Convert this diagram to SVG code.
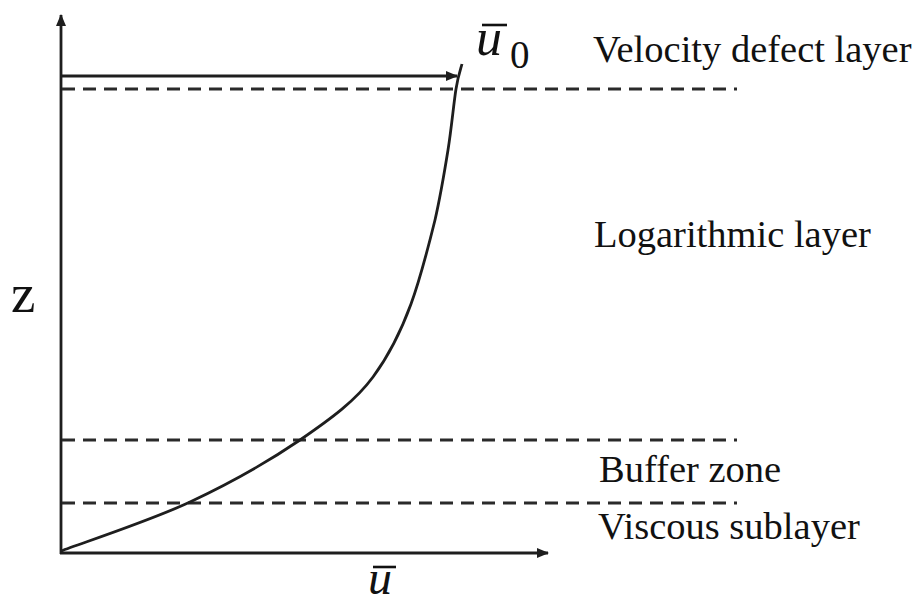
<svg xmlns="http://www.w3.org/2000/svg" width="922" height="605" viewBox="0 0 922 605">
<style>
.axis{stroke:#1e1e1e;stroke-width:2.8;fill:none}
.dash{stroke:#2a2a2a;stroke-width:3;stroke-dasharray:13 8;fill:none}
.lbl{font-family:"Liberation Serif","Times New Roman",serif;font-size:38.5px;fill:#111}
.math{font-family:"Liberation Serif","Times New Roman",serif;fill:#111}
.bar{stroke:#111;stroke-width:2.6}
</style>
<defs>
<marker id="ah" viewBox="0 0 12 10" refX="11" refY="5" markerWidth="12" markerHeight="10" markerUnits="userSpaceOnUse" orient="auto">
<path d="M0,0 L12,5 L0,10 Z" fill="#1e1e1e"/>
</marker>
</defs>
<rect width="922" height="605" fill="#fff"/>
<g id="connectors">
<line class="axis" x1="61" y1="554" x2="61" y2="15" marker-end="url(#ah)"/>
<line class="axis" x1="60" y1="553" x2="548" y2="553" marker-end="url(#ah)"/>
<line class="axis" x1="61" y1="76" x2="457" y2="76" stroke-width="2.3" marker-end="url(#ah)"/>
<line class="dash" x1="62" y1="89" x2="737" y2="89"/>
<line class="dash" x1="62" y1="440" x2="737" y2="440"/>
<line class="dash" x1="62" y1="503" x2="737" y2="503"/>
<path class="axis" d="M61,551 C82.5,542.8 150,520.8 190,502 C230,483.2 267.7,462 300,440 C332,418 355.5,400.7 373,377 C390.5,353.3 401.2,330.8 411,304 C420.8,277.2 428.5,246.3 435,220 C440.7,195 444.5,171.8 448,150 C451.5,128.2 453.7,103.3 456,89 C458.3,74.7 461,68.2 462,64"/>
</g>
<g id="label-velocity-defect"><text class="lbl" x="593" y="62">Velocity defect layer</text></g>
<g id="label-logarithmic"><text class="lbl" x="594" y="247">Logarithmic layer</text></g>
<g id="label-buffer"><text class="lbl" x="599" y="482">Buffer zone</text></g>
<g id="label-viscous"><text class="lbl" x="598" y="539">Viscous sublayer</text></g>
<g id="label-z"><text class="math" x="11" y="312" font-size="55">z</text></g>
<g id="label-u0">
<text class="math" x="476" y="55" font-size="52" font-style="italic">u</text>
<line class="bar" x1="482" y1="25" x2="507" y2="25"/>
<text class="math" x="510" y="68" font-size="39">0</text>
</g>
<g id="label-u">
<text class="math" x="368" y="594" font-size="48" font-style="italic">u</text>
<line class="bar" x1="373" y1="567" x2="396" y2="567"/>
</g>
</svg>
